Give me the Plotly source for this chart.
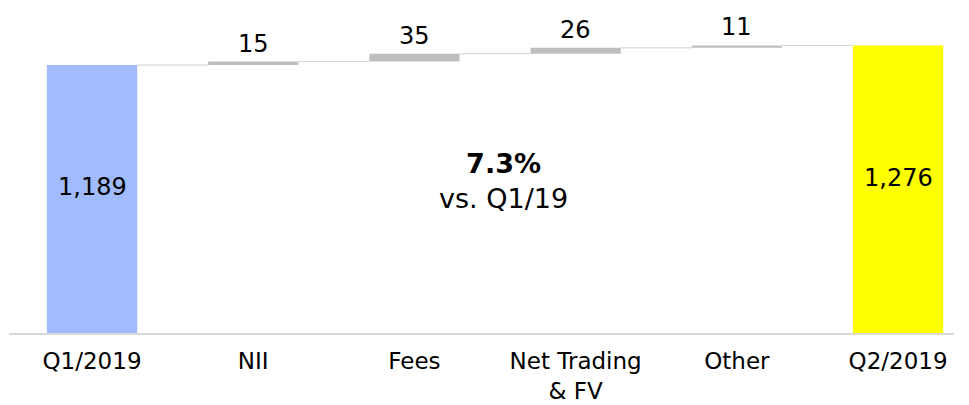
import numpy as np
import plotly.graph_objects as go

categories = ["Q1/2019", "NII", "Fees", "Net Trading<br>& FV", "Other", "Q2/2019"]
start_value = 1189
deltas = [15, 35, 26, 11]
end_value = 1276
delta_labels = ["15", "35", "26", "11"]
total_labels = ["1,189", "1,276"]

FONT = "DejaVu Sans"
W = 0.56  # bar width in category units

n = len(categories)
xs = np.arange(n)
cum = start_value + np.cumsum([0] + deltas)  # level after each step: 1189, 1204, ...
bases = cum[:-1]
tops = cum[1:]

fig = go.Figure()

# totals
fig.add_trace(go.Bar(x=[xs[0]], y=[start_value], width=W, marker_color="#A0BBFF",
                     marker_line_width=0, hoverinfo="skip"))
fig.add_trace(go.Bar(x=[xs[-1]], y=[end_value], width=W, marker_color="#FFFF00",
                     marker_line_width=0, hoverinfo="skip"))
# deltas
fig.add_trace(go.Bar(x=xs[1:-1], y=deltas, base=bases, width=W, marker_color="#BFBFBF",
                     marker_line_width=0, hoverinfo="skip"))

# connectors
for i in range(n - 1):
    lvl = cum[i]
    fig.add_trace(go.Scatter(x=[xs[i] + W / 2, xs[i + 1] - W / 2], y=[lvl, lvl], mode="lines",
                             line=dict(color="#D0D0D0", width=1), hoverinfo="skip"))

annotations = []
for i, d in enumerate(deltas):
    annotations.append(dict(x=xs[i + 1], y=tops[i], text=delta_labels[i], showarrow=False,
                            yanchor="bottom", yshift=2, font=dict(family=FONT, size=24, color="#000")))
annotations.append(dict(x=xs[0], y=start_value * 0.545, text=total_labels[0], showarrow=False,
                        font=dict(family=FONT, size=24, color="#000")))
annotations.append(dict(x=xs[-1], y=end_value * 0.54, text=total_labels[1], showarrow=False,
                        font=dict(family=FONT, size=24, color="#000")))
pct = (end_value / start_value - 1) * 100
annotations.append(dict(x=2.55, y=673, text=f"<b>{pct:.1f}%</b><br>vs. Q1/19", showarrow=False,
                        font=dict(family=FONT, size=27, color="#000")))

fig.update_layout(
    width=961, height=397,
    margin=dict(l=1, r=15, t=2, b=66),
    paper_bgcolor="white", plot_bgcolor="white",
    showlegend=False, barmode="overlay",
    annotations=annotations,
    xaxis=dict(range=[-0.515, 5.347], tickmode="array", tickvals=xs, ticktext=categories,
               showgrid=False, zeroline=False, showline=True, linecolor="#D9D9D9", linewidth=2,
               ticks="", ticklabelstandoff=6, tickfont=dict(family=FONT, size=23, color="#000")),
    yaxis=dict(range=[0, 1433], visible=False, showgrid=False, zeroline=False),
)

fig.write_html("out.html")
